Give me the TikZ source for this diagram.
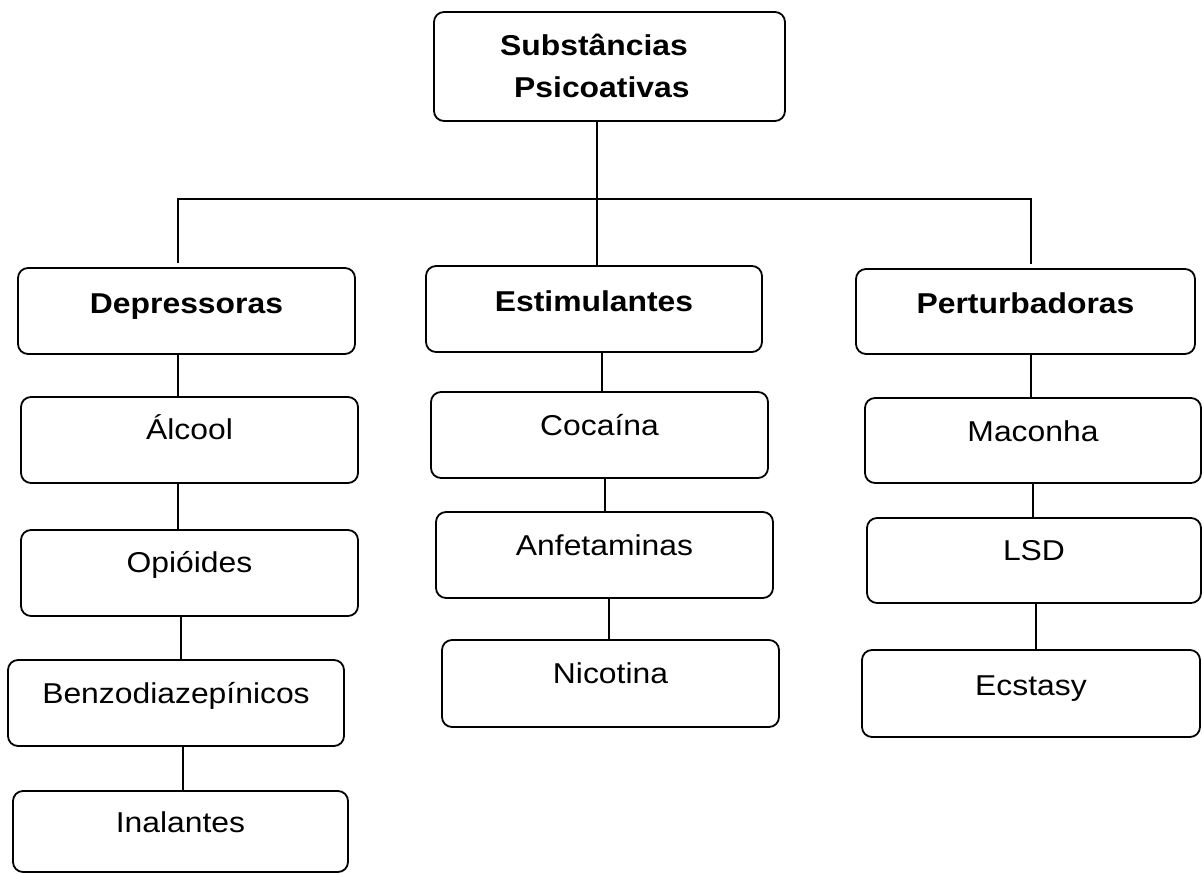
\documentclass[tikz,border=0pt]{standalone}
\usepackage{fontspec}
\setmainfont{Liberation Sans}[FakeStretch=1.11]
\newcommand{\mybox}[7]{%
  \node[box, minimum width={(#4)-(#2)}, minimum height={(#5)-(#3)}] (#1) at ({(#2+#4)/2},{(#3+#5)/2}) {};
  \node[lbl] (#1-t) at ({(#2+#4)/2},#6) {#7};}
\begin{document}
\begin{tikzpicture}[x=1pt,y=-1pt,
  box/.style={draw, line width=1.8pt, rounded corners=10pt, inner sep=0pt},
  lbl/.style={anchor=base, inner sep=0pt, font=\fontsize{28.7}{34}\selectfont},
  hdr/.style={anchor=base west, inner sep=0pt, font=\fontsize{28.7}{34}\selectfont\bfseries},
  conn/.style={line width=1.5pt}]
\useasboundingbox[fill=white] (0,0) rectangle (1202,873);
% root
\node[box, minimum width=351, minimum height=109] (root) at (609.5,66.5) {};
\node[hdr] (root-t1) at (500,55) {Substâncias};
\node[hdr] (root-t2) at (514,97) {Psicoativas};
% categories
\mybox{dep}{18}{268}{355}{354}{313}{\bfseries Depressoras}
\mybox{est}{426}{266}{762}{352}{311}{\bfseries Estimulantes}
\mybox{per}{856}{269}{1195}{354}{313}{\bfseries Perturbadoras}
% depressoras
\mybox{alc}{21}{397}{358}{483}{439}{Álcool}
\mybox{opi}{21}{530}{358}{616}{572}{Opióides}
\mybox{ben}{8}{660}{344}{746}{703}{Benzodiazepínicos}
\mybox{ina}{13}{791}{348}{872}{832}{Inalantes}
% estimulantes
\mybox{coc}{431}{392}{768}{478}{435}{Cocaína}
\mybox{anf}{436}{512}{773}{598}{555}{Anfetaminas}
\mybox{nic}{442}{640}{779}{727}{683}{Nicotina}
% perturbadoras
\mybox{mac}{865}{398}{1201}{483}{441}{Maconha}
\mybox{lsd}{867}{518}{1201}{603}{560}{LSD}
\mybox{ecs}{862}{650}{1200}{737}{695}{Ecstasy}
% connector coordinates
\coordinate (cm) at (597,0);
\coordinate (hl) at (178,199);
\coordinate (hr) at (1031,199);
\coordinate (c1) at (178,0);
\coordinate (c2) at (181,0);
\coordinate (c3) at (183,0);
\coordinate (m1) at (602,0);
\coordinate (m2) at (605,0);
\coordinate (m3) at (609,0);
\coordinate (r1) at (1031,0);
\coordinate (r2) at (1033,0);
\coordinate (r3) at (1036,0);
% connectors
\draw[conn] (root.south -| cm) -- (est.north -| cm);
\draw[conn] ([yshift=4pt]dep.north -| hl) -- (hl) -- (hr) -- ([yshift=4pt]per.north -| hr);
\draw[conn] (dep.south -| c1) -- (alc.north -| c1);
\draw[conn] (alc.south -| c1) -- (opi.north -| c1);
\draw[conn] (opi.south -| c2) -- (ben.north -| c2);
\draw[conn] (ben.south -| c3) -- (ina.north -| c3);
\draw[conn] (est.south -| m1) -- (coc.north -| m1);
\draw[conn] (coc.south -| m2) -- (anf.north -| m2);
\draw[conn] (anf.south -| m3) -- (nic.north -| m3);
\draw[conn] (per.south -| r1) -- (mac.north -| r1);
\draw[conn] (mac.south -| r2) -- (lsd.north -| r2);
\draw[conn] (lsd.south -| r3) -- (ecs.north -| r3);
\end{tikzpicture}
\end{document}
